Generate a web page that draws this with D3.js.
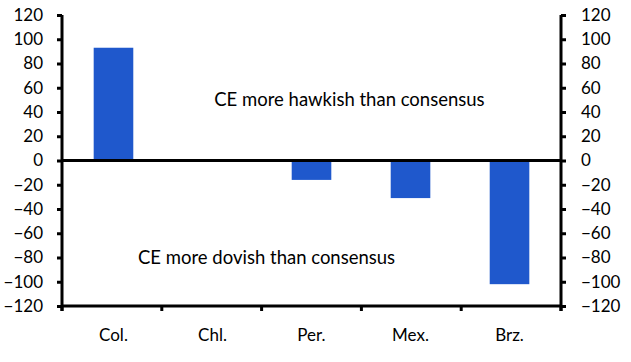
<!DOCTYPE html>
<html>
<head>
<meta charset="utf-8">
<script src="https://cdn.jsdelivr.net/npm/d3@7"></script>
<style>
  body { margin: 0; background: #fff; }
  text { font-family: Lato, "Open Sans", sans-serif; fill: #000; }
</style>
</head>
<body>
<div id="chart"></div>
<script>
const categories = ['Col.', 'Chl.', 'Per.', 'Mex.', 'Brz.'];
const values = [93, 0, -16, -31, -102];
const yTicks = [-120, -100, -80, -60, -40, -20, 0, 20, 40, 60, 80, 100, 120];
const notes = [
  { text: 'CE more hawkish than consensus', x: 2.88, y: 45 },
  { text: 'CE more dovish than consensus', x: 2.05, y: -85 },
];

const width = 631;
const height = 362;
const margin = { top: 15, right: 70, bottom: 56, left: 62 };

const svg = d3
  .select('#chart')
  .append('svg')
  .attr('width', width)
  .attr('height', height);

const chartWidth = width - margin.left - margin.right;
const chartHeight = height - margin.top - margin.bottom;

const xScale = d3
  .scaleBand()
  .domain(categories)
  .range([0, chartWidth])
  .paddingInner(0.6)
  .paddingOuter(0.32);

const yScale = d3.scaleLinear().domain([-120, 120]).range([chartHeight, 0]);

const chartArea = svg
  .append('g')
  .attr('transform', `translate(${margin.left},${margin.top})`);

// bars
chartArea
  .selectAll('rect.bar')
  .data(values)
  .join('rect')
  .attr('class', 'bar')
  .attr('x', (d, i) => xScale(categories[i]))
  .attr('width', xScale.bandwidth())
  .attr('y', (d) => yScale(Math.max(0, d)))
  .attr('height', (d) => Math.abs(yScale(d) - yScale(0)))
  .style('fill', '#1f58cc');

// zero line
chartArea
  .append('line')
  .attr('x1', 0)
  .attr('x2', chartWidth)
  .attr('y1', yScale(0))
  .attr('y2', yScale(0))
  .style('stroke', '#000')
  .style('stroke-width', 3);

// y axes
const leftAxis = d3.axisLeft(yScale).tickValues(yTicks).tickSize(5).tickPadding(14);
const rightAxis = d3.axisRight(yScale).tickValues(yTicks).tickSize(5).tickPadding(15);

function styleAxis(g) {
  g.select('.domain').style('stroke-width', 3).attr('d', null);
  g.selectAll('.tick line').style('stroke-width', 3);
  g.selectAll('.tick text').style('font-size', '17px').attr('font-family', null);
  g.attr('font-family', null);
}

const leftG = chartArea.append('g').call(leftAxis);
leftG.call(styleAxis);
leftG
  .append('line')
  .attr('x1', 0)
  .attr('x2', 0)
  .attr('y1', 0)
  .attr('y2', chartHeight + 5)
  .style('stroke', '#000')
  .style('stroke-width', 3);

const rightG = chartArea
  .append('g')
  .attr('transform', `translate(${chartWidth},0)`)
  .call(rightAxis);
rightG.call(styleAxis);
rightG
  .append('line')
  .attr('x1', 0)
  .attr('x2', 0)
  .attr('y1', 0)
  .attr('y2', chartHeight + 5)
  .style('stroke', '#000')
  .style('stroke-width', 3);

// bottom axis with ticks at category boundaries
const bottomG = chartArea
  .append('g')
  .attr('transform', `translate(0,${chartHeight})`);
bottomG
  .append('line')
  .attr('x1', 0)
  .attr('x2', chartWidth)
  .style('stroke', '#000')
  .style('stroke-width', 3);
bottomG
  .selectAll('line.bt')
  .data(d3.range(categories.length + 1))
  .join('line')
  .attr('class', 'bt')
  .attr('x1', (d) => d * (chartWidth / categories.length))
  .attr('x2', (d) => d * (chartWidth / categories.length))
  .attr('y1', 0)
  .attr('y2', 5)
  .style('stroke', '#000')
  .style('stroke-width', 3);
bottomG
  .selectAll('text')
  .data(categories)
  .join('text')
  .attr('x', (d) => xScale(d) + xScale.bandwidth() / 2)
  .attr('y', 35)
  .attr('text-anchor', 'middle')
  .style('font-size', '17px')
  .text((d) => d);

// annotations
chartArea
  .selectAll('text.note')
  .data(notes)
  .join('text')
  .attr('class', 'note')
  .attr('x', (d) => d.x * (chartWidth / categories.length))
  .attr('y', (d) => yScale(d.y))
  .attr('text-anchor', 'middle')
  .style('font-size', '18.5px')
  .text((d) => d.text);
</script>
</body>
</html>
